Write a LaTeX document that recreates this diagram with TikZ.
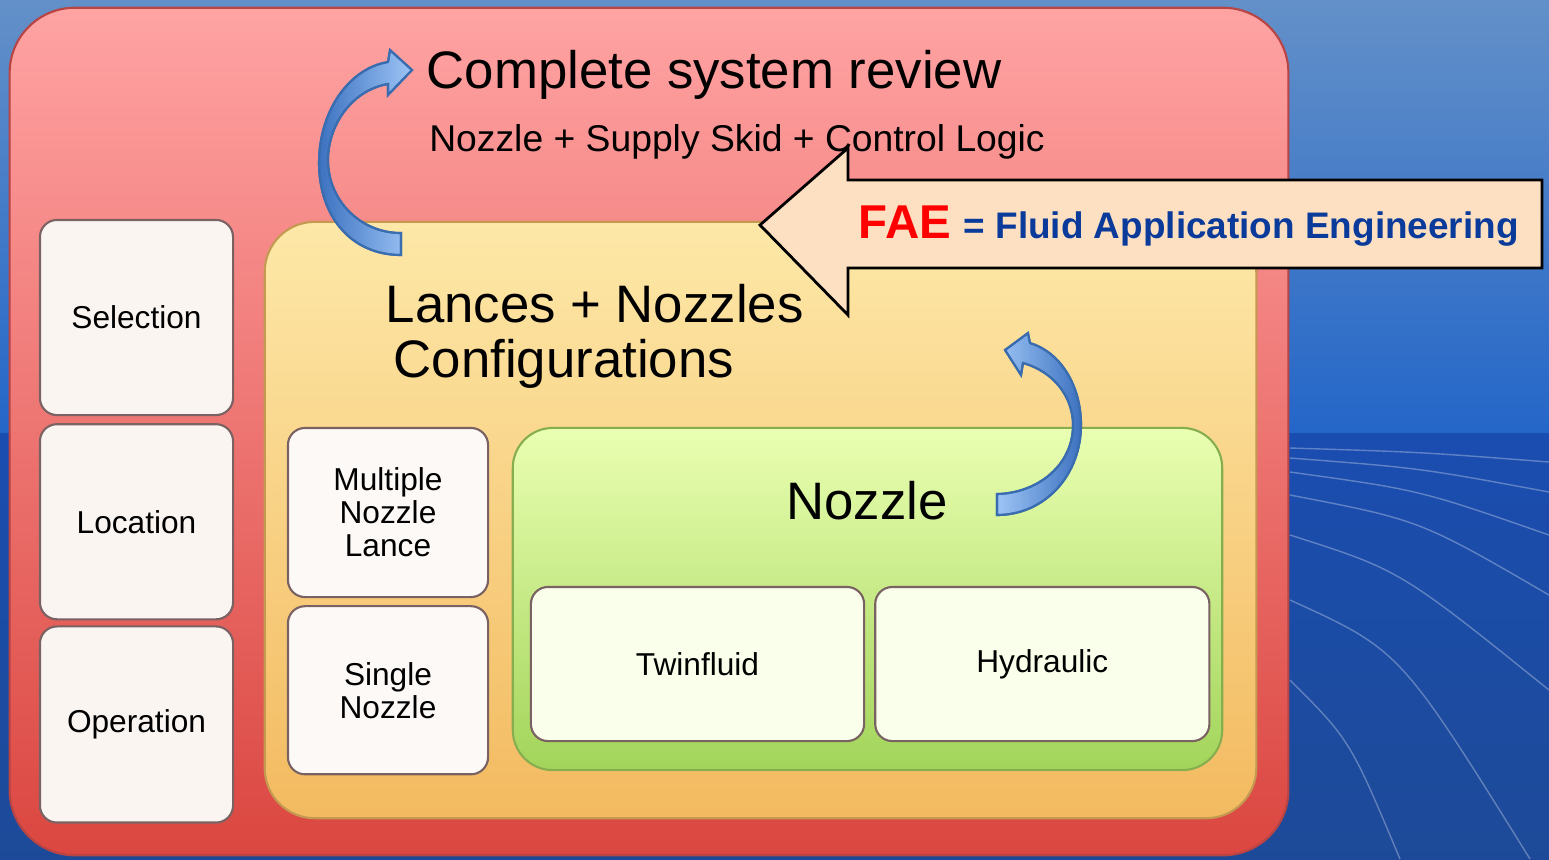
\documentclass[tikz,border=0pt]{standalone}
\usepackage{fontspec}
\setmainfont{Liberation Sans}
\usetikzlibrary{positioning}

\definecolor{skytop}{HTML}{6390C8}
\definecolor{skylow}{HTML}{2466C8}
\definecolor{seatop}{HTML}{1A4DB0}
\definecolor{seamid}{HTML}{2A66C6}
\definecolor{seabot}{HTML}{1D4A98}
\definecolor{redtop}{HTML}{FFA3A3}
\definecolor{redbot}{HTML}{DB4640}
\definecolor{redline}{HTML}{B84444}
\definecolor{goldtop}{HTML}{FDE8A8}
\definecolor{goldbot}{HTML}{F3BA60}
\definecolor{goldline}{HTML}{C49A50}
\definecolor{limetop}{HTML}{EAFFB2}
\definecolor{limebot}{HTML}{A2D45A}
\definecolor{limeline}{HTML}{86AE4E}
\definecolor{cardfill}{HTML}{FBF5F2}
\definecolor{cardline}{HTML}{7A6262}
\definecolor{peach}{HTML}{FDE0C2}
\definecolor{faeblue}{HTML}{0A3A9A}
\definecolor{arrowlight}{HTML}{9DC4F5}
\definecolor{arrowdark}{HTML}{3D72C0}
\definecolor{arrowline}{HTML}{3A6CB0}

\begin{document}
\begin{tikzpicture}[x=0.01cm,y=-0.01cm,
  frame/.style={draw=redline,line width=0.6pt,rounded corners=0.65cm,
    top color=redtop,bottom color=redbot,inner sep=0pt},
  tray/.style={draw=goldline,line width=0.6pt,rounded corners=0.5cm,
    top color=goldtop,bottom color=goldbot,inner sep=0pt},
  nozzlebox/.style={draw=limeline,line width=0.6pt,rounded corners=0.4cm,
    top color=limetop,bottom color=limebot,inner sep=0pt},
  card/.style={draw=cardline,line width=0.6pt,rounded corners=0.17cm,fill=cardfill,
    inner sep=0pt,align=center,font=\fontsize{9}{9.4}\selectfont},
  bigtext/.style={inner sep=0pt,font=\fontsize{15}{18}\selectfont},
  curvearrow/.style={draw=arrowline,line width=0.6pt},
  fan/.style={draw=white,opacity=0.3,line width=0.4pt}]

  % background
  \useasboundingbox (0,0) rectangle (1549,859);
  \shade[top color=skytop,bottom color=skylow] (0,0) rectangle (1549,433);
  \shade[top color=seatop,middle color=seamid,bottom color=seabot] (0,433) rectangle (1549,859);
  \draw[fan] (1290,448) .. controls (1420,452) .. (1549,462);
  \draw[fan] (1290,458) .. controls (1420,468) .. (1549,492);
  \draw[fan] (1290,472) .. controls (1420,490) .. (1549,535);
  \draw[fan] (1290,495) .. controls (1420,520) .. (1549,595);
  \draw[fan] (1290,535) .. controls (1400,570) .. (1549,690);
  \draw[fan] (1290,600) .. controls (1400,650) .. (1530,859);
  \draw[fan] (1290,680) .. controls (1350,740) .. (1400,859);

  % boxes
  \node[frame,minimum width=12.78cm,minimum height=8.47cm] (outer) at (649,431.5) {};

  \node[card,minimum width=1.93cm,minimum height=1.95cm] (sel) at (136.5,317.5) {Selection};
  \node[card,minimum width=1.93cm,minimum height=1.95cm] (loc) [below=0.07cm of sel] {Location};
  \node[card,minimum width=1.93cm,minimum height=1.96cm] (op) [below=0.05cm of loc] {Operation};

  \node[tray,minimum width=9.91cm,minimum height=5.96cm] (lances) at (760.5,520) {};

  \node[card,fill=cardfill!60!white,minimum width=2cm,minimum height=1.69cm] (multi) at (388,512.5) {Multiple\\Nozzle\\Lance};
  \node[card,fill=cardfill!60!white,minimum width=2cm,minimum height=1.68cm] (single) [below=0.07cm of multi] {Single\\Nozzle};

  \node[nozzlebox,minimum width=7.09cm,minimum height=3.42cm] (nozzle) at (867.5,599) {};
  \node[card,fill=limetop!25!white,minimum width=3.33cm,minimum height=1.54cm] (twin) at (697.5,664) {Twinfluid};
  \node[card,fill=limetop!25!white,minimum width=3.34cm,minimum height=1.54cm] (hydro) [right=0.09cm of twin] {Hydraulic};

  % titles
  \node[bigtext,anchor=base] (review) at (714,88) {Complete system review};
  \node[inner sep=0pt,anchor=base,font=\fontsize{10.6}{12}\selectfont] (parts) at (737,151)
    {Nozzle + Supply Skid + Control Logic};
  \node[bigtext,anchor=base west] (lances_t1) at (385,322) {Lances + Nozzles};
  \node[bigtext,anchor=base west] (lances_t2) at (393,377) {Configurations};
  \node[bigtext,anchor=base] (nozzle_t) at (867,519) {Nozzle};

  % FAE block arrow
  \filldraw[fill=peach,draw=black,line width=0.8pt]
    (1542,180) -- (1542,268) -- (848,268) -- (848,315) -- (760,225)
    -- (848,148) -- (848,180) -- cycle;
  \node[inner sep=0pt,anchor=base west,text=red,font=\fontsize{13.5}{16}\bfseries] (fae) at (858,238) {FAE};
  \node[inner sep=0pt,anchor=base west,text=faeblue,font=\fontsize{10.5}{12}\bfseries] (fae_def) at (963,238)
    {= Fluid Application Engineering};

  % curved arrows
  \shade[left color=arrowdark,right color=arrowlight,curvearrow]
    (401,255) .. controls (350,255) and (319,215) .. (319,163)
    .. controls (319,110) and (350,68) .. (388,62) -- (390,50) -- (412,70)
    -- (388,95) -- (388,84) .. controls (352,90) and (328,125) .. (328,160)
    .. controls (328,200) and (360,233) .. (401,233) -- cycle;
  \draw[curvearrow]
    (401,255) .. controls (350,255) and (319,215) .. (319,163)
    .. controls (319,110) and (350,68) .. (388,62) -- (390,50) -- (412,70)
    -- (388,95) -- (388,84) .. controls (352,90) and (328,125) .. (328,160)
    .. controls (328,200) and (360,233) .. (401,233) -- cycle;
  \shade[left color=arrowlight,right color=arrowdark,curvearrow]
    (997,515) .. controls (1045,515) and (1081,475) .. (1081,425)
    .. controls (1081,385) and (1060,352) .. (1030,343) -- (1028,333) -- (1005,350)
    -- (1021,375) -- (1023,363) .. controls (1055,372) and (1073,398) .. (1073,425)
    .. controls (1073,465) and (1038,493) .. (997,494) -- cycle;
  \draw[curvearrow]
    (997,515) .. controls (1045,515) and (1081,475) .. (1081,425)
    .. controls (1081,385) and (1060,352) .. (1030,343) -- (1028,333) -- (1005,350)
    -- (1021,375) -- (1023,363) .. controls (1055,372) and (1073,398) .. (1073,425)
    .. controls (1073,465) and (1038,493) .. (997,494) -- cycle;
\end{tikzpicture}
\end{document}
